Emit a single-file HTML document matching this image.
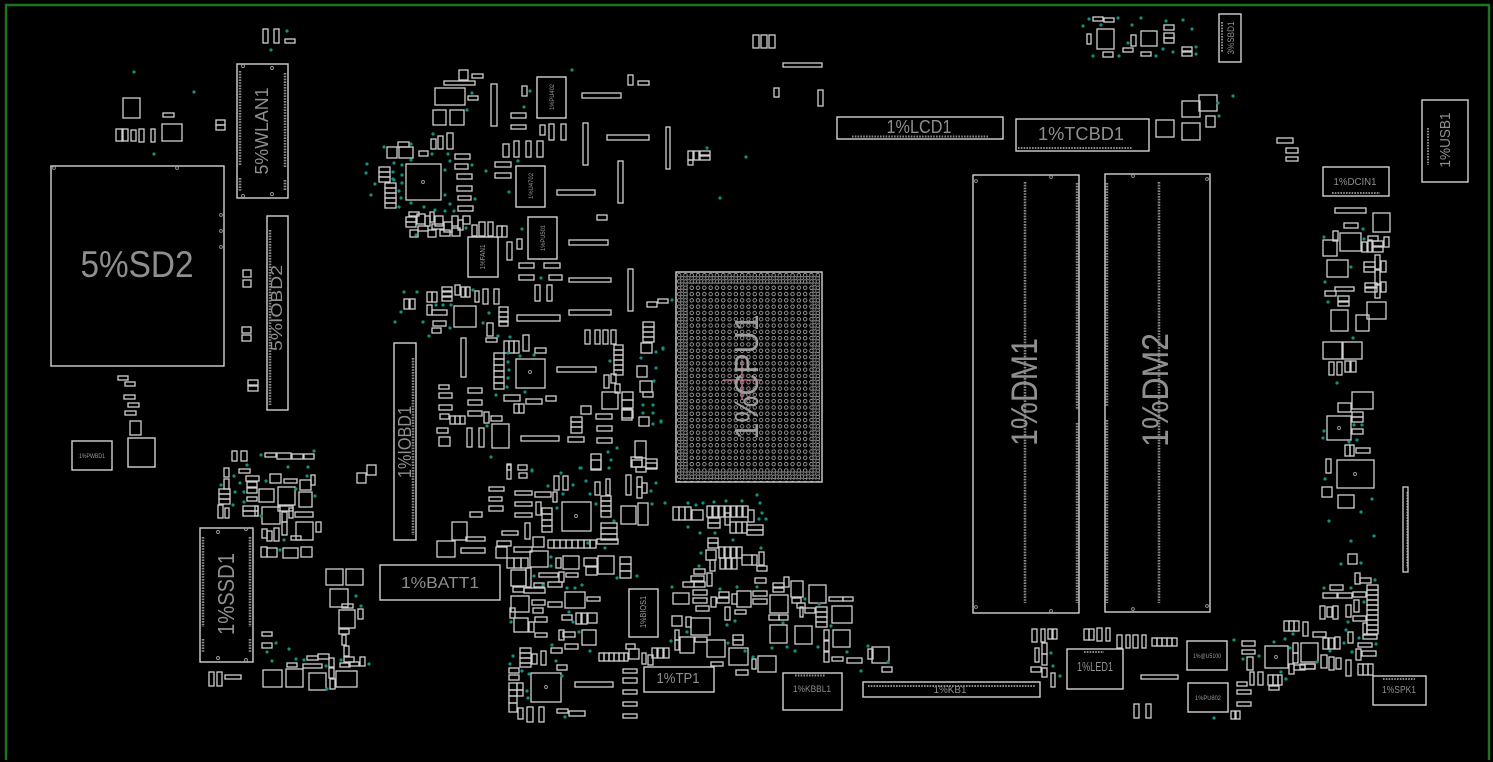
<!DOCTYPE html>
<html><head><meta charset="utf-8">
<style>
html,body{margin:0;padding:0;background:#000;}
svg{display:block;}
.s rect{fill:none;stroke:#d0d0d0;stroke-width:1.3;}
.c{fill:none;stroke:#d2d2d2;stroke-width:1.4;}
.t circle{fill:#11917f;}
.pin{stroke:#8a8a8a;stroke-width:2.6;stroke-dasharray:1.6 1.2;fill:none;}
text{font-family:"Liberation Sans",sans-serif;fill:#8f8f8f;}
.sm{fill:#9a9a9a;}
</style></head><body>
<svg width="1493" height="762" viewBox="0 0 1493 762" xmlns="http://www.w3.org/2000/svg">
<defs>
<pattern id="bga" x="676" y="272" width="6.3" height="6.3" patternUnits="userSpaceOnUse">
<circle cx="3.15" cy="3.15" r="1.75" fill="none" stroke="#a6a6a6" stroke-width="0.85"/>
</pattern>
<pattern id="bga2" x="679" y="275" width="6.3" height="6.3" patternUnits="userSpaceOnUse">
<circle cx="3.15" cy="3.15" r="1.6" fill="none" stroke="#9c9c9c" stroke-width="0.8"/>
</pattern>
</defs>
<rect width="1493" height="762" fill="#000"/>
<!-- board border -->
<path d="M6,760 L6,5 L1489,5 L1489,760" fill="none" stroke="#1c741c" stroke-width="2.4"/>

<!-- big outlines -->
<rect class="c" x="51" y="166" width="173" height="200"/>
<rect class="c" x="237" y="64" width="51" height="134"/>
<rect class="c" x="267" y="216" width="21" height="194"/>
<rect class="c" x="394" y="343" width="22" height="197"/>
<rect class="c" x="200" y="528" width="53" height="134"/>
<rect class="c" x="380" y="565" width="120" height="35"/>
<rect class="c" x="973" y="175" width="106" height="438"/>
<rect class="c" x="1105" y="174" width="105" height="438"/>
<rect class="c" x="837" y="117" width="166" height="22"/>
<rect class="c" x="1016" y="119" width="133" height="32"/>
<rect class="c" x="1323" y="167" width="66" height="29"/>
<rect class="c" x="1422" y="100" width="46" height="82"/>
<rect class="c" x="1219" y="14" width="22" height="48"/>
<rect class="c" x="1373" y="676" width="53" height="29"/>
<rect class="c" x="1067" y="649" width="56" height="40"/>
<rect class="c" x="1187" y="641" width="40" height="29"/>
<rect class="c" x="1188" y="683" width="40" height="29"/>
<rect class="c" x="863" y="682" width="177" height="15"/>
<rect class="c" x="783" y="673" width="59" height="37"/>
<rect class="c" x="644" y="667" width="70" height="25"/>
<rect class="c" x="629" y="589" width="29" height="48"/>
<rect class="c" x="72" y="441" width="40" height="29"/>
<rect class="c" x="128" y="438" width="27" height="29"/>
<rect class="c" x="468" y="237" width="30" height="40"/>
<rect class="c" x="537" y="77" width="29" height="41"/>
<rect class="c" x="516" y="166" width="29" height="41"/>
<rect class="c" x="528" y="217" width="29" height="42"/>

<!-- CPU BGA -->
<rect x="676" y="272" width="146" height="210" fill="url(#bga)"/>
<path d="M678,274 H820 V480 H678 Z M688,284 V470 H810 V284 Z" fill="url(#bga2)" fill-rule="evenodd"/>
<rect class="c" x="676" y="272" width="146" height="210"/>

<!-- pin rows -->
<g class="pin">
<line x1="240" y1="71" x2="240" y2="165"/><line x1="240" y1="178" x2="240" y2="191"/>
<line x1="285" y1="73" x2="285" y2="167"/><line x1="285" y1="180" x2="285" y2="191"/>
<line x1="270" y1="230" x2="270" y2="405"/>
<line x1="413" y1="358" x2="413" y2="535"/>
<line x1="203" y1="537" x2="203" y2="627"/><line x1="203" y1="639" x2="203" y2="653"/>
<line x1="250" y1="537" x2="250" y2="627"/><line x1="250" y1="639" x2="250" y2="653"/>
<line x1="1025" y1="182" x2="1025" y2="603"/>
<line x1="1077" y1="183" x2="1077" y2="410"/><line x1="1077" y1="423" x2="1077" y2="603"/>
<line x1="1159" y1="182" x2="1159" y2="603"/>
<line x1="1107" y1="183" x2="1107" y2="407"/><line x1="1107" y1="420" x2="1107" y2="603"/>
<line x1="852" y1="136.5" x2="988" y2="136.5" style="stroke-width:2"/>
<line x1="1018" y1="148" x2="1132" y2="148" style="stroke-width:2"/>
<line x1="1332" y1="193" x2="1380" y2="193" style="stroke-width:2"/>
<line x1="1428" y1="128" x2="1428" y2="165" style="stroke-width:2"/>
<line x1="1222" y1="22" x2="1222" y2="52" style="stroke-width:2"/>
<line x1="868" y1="686" x2="1035" y2="686" style="stroke-width:2"/>
<line x1="795" y1="675.5" x2="825" y2="675.5" style="stroke-width:2"/>
<line x1="1383" y1="679" x2="1415" y2="679" style="stroke-width:2"/>
<line x1="1084" y1="652" x2="1104" y2="652" style="stroke-width:2"/>
<line x1="1407" y1="492" x2="1407" y2="568" style="stroke-width:1.4"/>
</g>

<!-- pink crosshair -->
<line x1="723" y1="380" x2="762" y2="380" stroke="#c87a8c" stroke-width="1.3"/>
<line x1="742" y1="360" x2="742" y2="400" stroke="#c87a8c" stroke-width="1.3"/>

<!-- labels -->
<text x="137" y="277" font-size="37" text-anchor="middle" textLength="113" lengthAdjust="spacingAndGlyphs">5%SD2</text>
<text transform="translate(268,131) rotate(-90)" font-size="18" text-anchor="middle" textLength="87" lengthAdjust="spacingAndGlyphs">5%WLAN1</text>
<text transform="translate(282,308) rotate(-90)" font-size="16" text-anchor="middle" textLength="86" lengthAdjust="spacingAndGlyphs">5%IOBD2</text>
<text transform="translate(411,442) rotate(-90)" font-size="18" text-anchor="middle" textLength="72" lengthAdjust="spacingAndGlyphs">1%IOBD1</text>
<text transform="translate(234,594) rotate(-90)" font-size="23" text-anchor="middle" textLength="82" lengthAdjust="spacingAndGlyphs">1%SSD1</text>
<text transform="translate(758,377) rotate(-90)" font-size="33" text-anchor="middle" textLength="125" lengthAdjust="spacingAndGlyphs" style="fill:#9a9a9a">1%CPU1</text>
<text transform="translate(1037,392) rotate(-90)" font-size="37" text-anchor="middle" textLength="108" lengthAdjust="spacingAndGlyphs">1%DM1</text>
<text transform="translate(1168,390) rotate(-90)" font-size="37" text-anchor="middle" textLength="114" lengthAdjust="spacingAndGlyphs">1%DM2</text>
<text x="919" y="133" font-size="18" text-anchor="middle" textLength="65" lengthAdjust="spacingAndGlyphs">1%LCD1</text>
<text x="1081" y="140" font-size="18" text-anchor="middle" textLength="86" lengthAdjust="spacingAndGlyphs">1%TCBD1</text>
<text x="440" y="588" font-size="16" text-anchor="middle" textLength="78" lengthAdjust="spacingAndGlyphs">1%BATT1</text>
<text x="678" y="683" font-size="15" text-anchor="middle" textLength="43" lengthAdjust="spacingAndGlyphs">1%TP1</text>
<text x="812" y="692" font-size="9" text-anchor="middle" textLength="38" lengthAdjust="spacingAndGlyphs">1%KBBL1</text>
<text x="950" y="693" font-size="10" text-anchor="middle" textLength="33" lengthAdjust="spacingAndGlyphs">1%KB1</text>
<text x="1095" y="671" font-size="13" text-anchor="middle" textLength="36" lengthAdjust="spacingAndGlyphs">1%LED1</text>
<text x="1399" y="693" font-size="10" text-anchor="middle" textLength="34" lengthAdjust="spacingAndGlyphs">1%SPK1</text>
<text x="1355" y="185" font-size="10" text-anchor="middle" textLength="43" lengthAdjust="spacingAndGlyphs">1%DCIN1</text>
<text transform="translate(1450,140) rotate(-90)" font-size="15" text-anchor="middle" textLength="55" lengthAdjust="spacingAndGlyphs">1%USB1</text>
<text transform="translate(1234,38) rotate(-90)" font-size="9" text-anchor="middle" textLength="33" lengthAdjust="spacingAndGlyphs">3%SBD1</text>
<text x="92" y="458" font-size="6" text-anchor="middle" textLength="26" lengthAdjust="spacingAndGlyphs" class="sm">1%PWBD1</text>
<text transform="translate(485,257) rotate(-90)" font-size="7" text-anchor="middle" textLength="25" lengthAdjust="spacingAndGlyphs" class="sm">1%FAN1</text>
<text transform="translate(646,612) rotate(-90)" font-size="8" text-anchor="middle" textLength="32" lengthAdjust="spacingAndGlyphs" class="sm">1%BIOS1</text>
<text transform="translate(554,97) rotate(-90)" font-size="6" text-anchor="middle" textLength="26" lengthAdjust="spacingAndGlyphs" class="sm">1%PU402</text>
<text transform="translate(533,186) rotate(-90)" font-size="6" text-anchor="middle" textLength="26" lengthAdjust="spacingAndGlyphs" class="sm">1%U4702</text>
<text transform="translate(545,238) rotate(-90)" font-size="6" text-anchor="middle" textLength="26" lengthAdjust="spacingAndGlyphs" class="sm">1%PU501</text>
<text x="1207" y="658" font-size="6" text-anchor="middle" textLength="28" lengthAdjust="spacingAndGlyphs" class="sm">1%@U5100</text>
<text x="1208" y="700" font-size="6" text-anchor="middle" textLength="26" lengthAdjust="spacingAndGlyphs" class="sm">1%PU802</text>

<!-- small components -->
<g class="s">
<rect x="263" y="29" width="5" height="14"/><rect x="274" y="29" width="5" height="14"/><rect x="285" y="39" width="10" height="4"/>
<rect x="123" y="98" width="17" height="20"/><rect x="163" y="113" width="11" height="4"/><rect x="162" y="124" width="20" height="17"/>
<rect x="116" y="129" width="7" height="12"/><rect x="122" y="129" width="6" height="12"/><rect x="131" y="130" width="5" height="11"/><rect x="139" y="129" width="5" height="13"/><rect x="151" y="129" width="4" height="13"/>
<rect x="216" y="120" width="9" height="5"/><rect x="216" y="125" width="9" height="5"/>
<rect x="118" y="376" width="10" height="4"/><rect x="125" y="382" width="10" height="4"/><rect x="124" y="395" width="11" height="4"/><rect x="128" y="403" width="11" height="4"/><rect x="125" y="411" width="11" height="4"/><rect x="130" y="421" width="11" height="14"/>
<rect x="243" y="270" width="8" height="7"/><rect x="243" y="280" width="8" height="7"/><rect x="242" y="327" width="9" height="6"/><rect x="242" y="335" width="9" height="6"/><rect x="248" y="380" width="10" height="5"/><rect x="248" y="386" width="10" height="5"/>

<rect x="232" y="451" width="5" height="10"/><rect x="241" y="451" width="6" height="10"/>
<rect x="265" y="453" width="11" height="4"/><rect x="277" y="453" width="14" height="6"/><rect x="292" y="454" width="11" height="5"/><rect x="304" y="454" width="10" height="5"/>
<rect x="239" y="469" width="11" height="4"/><rect x="224" y="468" width="5" height="9"/><rect x="224" y="479" width="5" height="10"/>
<rect x="246" y="476" width="13" height="5"/><rect x="247" y="482" width="10" height="5"/><rect x="247" y="488" width="10" height="5"/><rect x="247" y="497" width="10" height="4"/>
<rect x="270" y="474" width="11" height="9"/><rect x="284" y="479" width="13" height="4"/><rect x="300" y="480" width="11" height="10"/><rect x="311" y="475" width="4" height="10"/>
<rect x="259" y="489" width="15" height="13"/><rect x="278" y="487" width="17" height="18"/><rect x="299" y="492" width="13" height="15"/>
<rect x="219" y="489" width="11" height="5"/><rect x="219" y="494" width="11" height="5"/><rect x="219" y="499" width="11" height="5"/>
<rect x="218" y="505" width="5" height="13"/><rect x="225" y="508" width="4" height="10"/>
<rect x="243" y="506" width="15" height="5"/><rect x="243" y="511" width="15" height="5"/><rect x="255" y="506" width="3" height="10"/>
<rect x="262" y="507" width="18" height="17"/>
<rect x="278" y="506" width="15" height="5"/><rect x="282" y="512" width="5" height="10"/><rect x="289" y="508" width="4" height="10"/><rect x="295" y="512" width="18" height="5"/>
<rect x="282" y="522" width="5" height="13"/><rect x="296" y="522" width="17" height="18"/><rect x="316" y="522" width="5" height="10"/>
<rect x="262" y="529" width="5" height="9"/><rect x="267" y="531" width="5" height="10"/><rect x="274" y="528" width="5" height="13"/><rect x="291" y="536" width="10" height="4"/>
<rect x="261" y="547" width="6" height="10"/><rect x="267" y="548" width="10" height="9"/><rect x="283" y="548" width="15" height="10"/><rect x="301" y="547" width="11" height="10"/>
<rect x="262" y="632" width="10" height="4"/><rect x="262" y="643" width="10" height="5"/>
<rect x="326" y="569" width="17" height="16"/><rect x="346" y="569" width="17" height="16"/><rect x="330" y="589" width="18" height="18"/><rect x="342" y="604" width="11" height="4"/><rect x="339" y="610" width="16" height="18"/><rect x="358" y="609" width="5" height="10"/><rect x="339" y="629" width="10" height="5"/><rect x="342" y="635" width="4" height="10"/><rect x="344" y="646" width="5" height="10"/>
<rect x="344" y="657" width="10" height="5"/><rect x="349" y="662" width="10" height="4"/><rect x="360" y="657" width="5" height="9"/><rect x="340" y="663" width="10" height="4"/>
<rect x="307" y="656" width="11" height="4"/><rect x="318" y="654" width="11" height="5"/><rect x="287" y="663" width="10" height="4"/><rect x="303" y="664" width="19" height="4"/>
<rect x="329" y="658" width="5" height="9"/><rect x="329" y="668" width="5" height="10"/><rect x="330" y="679" width="5" height="10"/>
<rect x="263" y="670" width="19" height="17"/><rect x="286" y="669" width="17" height="18"/><rect x="309" y="673" width="17" height="17"/><rect x="336" y="671" width="21" height="16"/>
<rect x="209" y="672" width="5" height="14"/><rect x="217" y="672" width="5" height="14"/><rect x="225" y="675" width="16" height="4"/>
<rect x="357" y="473" width="9" height="10"/><rect x="367" y="465" width="9" height="10"/>

<rect x="459" y="70" width="9" height="10"/><rect x="472" y="74" width="11" height="4"/><rect x="444" y="81" width="31" height="4"/>
<rect x="435" y="88" width="30" height="17"/><rect x="468" y="96" width="10" height="4"/><rect x="491" y="84" width="6" height="42"/>
<rect x="433" y="110" width="13" height="15"/><rect x="450" y="110" width="14" height="15"/><rect x="522" y="86" width="5" height="10"/>
<rect x="582" y="93" width="39" height="5"/><rect x="628" y="75" width="5" height="10"/><rect x="638" y="81" width="11" height="4"/>
<rect x="511" y="113" width="15" height="5"/><rect x="511" y="125" width="15" height="4"/>
<rect x="540" y="125" width="5" height="10"/><rect x="549" y="124" width="5" height="16"/><rect x="561" y="124" width="5" height="16"/>
<rect x="583" y="123" width="5" height="42"/><rect x="607" y="135" width="42" height="5"/><rect x="618" y="161" width="5" height="42"/><rect x="666" y="127" width="4" height="42"/>
<rect x="431" y="139" width="5" height="10"/><rect x="438" y="136" width="5" height="13"/><rect x="447" y="133" width="6" height="16"/>
<rect x="398" y="142" width="11" height="5"/><rect x="387" y="147" width="10" height="11"/><rect x="399" y="147" width="14" height="11"/><rect x="419" y="151" width="9" height="5"/><rect x="455" y="154" width="15" height="5"/>
<rect x="406" y="164" width="35" height="36"/><rect x="379" y="167" width="11" height="5"/><rect x="379" y="172" width="11" height="5"/><rect x="379" y="177" width="11" height="5"/>
<rect x="385" y="183" width="11" height="5"/><rect x="385" y="188" width="11" height="5"/><rect x="385" y="193" width="11" height="5"/><rect x="385" y="198" width="11" height="5"/><rect x="385" y="203" width="11" height="5"/>
<rect x="455" y="164" width="13" height="5"/><rect x="457" y="174" width="15" height="5"/><rect x="457" y="186" width="15" height="5"/><rect x="458" y="196" width="13" height="4"/><rect x="458" y="206" width="15" height="5"/>
<rect x="495" y="162" width="16" height="5"/><rect x="495" y="173" width="16" height="5"/>
<rect x="503" y="144" width="6" height="13"/><rect x="514" y="141" width="5" height="16"/><rect x="526" y="141" width="5" height="16"/><rect x="537" y="141" width="6" height="16"/>
<rect x="557" y="190" width="38" height="5"/><rect x="597" y="215" width="10" height="5"/>
<rect x="406" y="217" width="10" height="5"/><rect x="406" y="222" width="10" height="5"/><rect x="409" y="212" width="10" height="4"/><rect x="417" y="214" width="8" height="10"/><rect x="425" y="216" width="5" height="10"/><rect x="430" y="212" width="4" height="10"/><rect x="435" y="216" width="8" height="10"/><rect x="432" y="224" width="12" height="5"/><rect x="444" y="222" width="8" height="10"/><rect x="452" y="216" width="6" height="10"/><rect x="458" y="220" width="5" height="10"/><rect x="463" y="216" width="7" height="8"/><rect x="418" y="226" width="10" height="5"/><rect x="410" y="230" width="8" height="7"/><rect x="428" y="230" width="8" height="7"/><rect x="440" y="230" width="10" height="6"/><rect x="452" y="228" width="8" height="8"/>
<rect x="472" y="225" width="5" height="11"/><rect x="479" y="222" width="6" height="14"/><rect x="488" y="222" width="5" height="14"/><rect x="497" y="226" width="5" height="11"/><rect x="502" y="226" width="5" height="11"/>
<rect x="507" y="242" width="5" height="18"/><rect x="517" y="239" width="5" height="10"/>
<rect x="569" y="240" width="39" height="5"/><rect x="519" y="263" width="15" height="5"/><rect x="544" y="263" width="16" height="5"/><rect x="519" y="275" width="15" height="5"/><rect x="549" y="275" width="13" height="5"/>
<rect x="628" y="269" width="5" height="42"/><rect x="569" y="278" width="42" height="4"/>

<rect x="442" y="287" width="10" height="4"/><rect x="442" y="292" width="10" height="4"/><rect x="442" y="297" width="10" height="4"/>
<rect x="455" y="285" width="5" height="10"/><rect x="461" y="287" width="4" height="10"/><rect x="466" y="287" width="4" height="10"/>
<rect x="475" y="291" width="4" height="11"/><rect x="483" y="289" width="5" height="15"/><rect x="494" y="289" width="5" height="15"/>
<rect x="535" y="285" width="5" height="16"/><rect x="547" y="285" width="5" height="16"/>
<rect x="427" y="292" width="5" height="10"/><rect x="432" y="292" width="5" height="10"/>
<rect x="404" y="299" width="5" height="10"/><rect x="410" y="299" width="5" height="10"/>
<rect x="427" y="305" width="5" height="10"/><rect x="432" y="310" width="15" height="5"/>
<rect x="454" y="306" width="22" height="21"/>
<rect x="499" y="307" width="9" height="5"/><rect x="499" y="312" width="9" height="5"/><rect x="499" y="317" width="9" height="5"/><rect x="499" y="321" width="9" height="5"/>
<rect x="517" y="315" width="43" height="6"/><rect x="569" y="310" width="42" height="5"/>
<rect x="647" y="302" width="10" height="5"/><rect x="658" y="299" width="10" height="4"/>
<rect x="433" y="321" width="13" height="5"/><rect x="432" y="328" width="9" height="5"/>
<rect x="487" y="323" width="6" height="13"/><rect x="486" y="338" width="11" height="4"/><rect x="461" y="338" width="5" height="39"/>
<rect x="504" y="341" width="5" height="12"/><rect x="509" y="341" width="5" height="12"/><rect x="514" y="341" width="5" height="12"/>
<rect x="523" y="335" width="6" height="16"/><rect x="535" y="348" width="11" height="5"/>
<rect x="494" y="353" width="10" height="6"/><rect x="494" y="359" width="10" height="6"/><rect x="494" y="365" width="10" height="6"/><rect x="494" y="371" width="10" height="6"/><rect x="494" y="377" width="10" height="6"/><rect x="494" y="383" width="10" height="6"/>
<rect x="516" y="359" width="29" height="29"/>
<rect x="585" y="330" width="5" height="14"/><rect x="595" y="330" width="5" height="14"/><rect x="603" y="330" width="5" height="14"/><rect x="611" y="330" width="5" height="14"/>
<rect x="643" y="322" width="11" height="5"/><rect x="643" y="327" width="11" height="5"/><rect x="643" y="332" width="11" height="5"/><rect x="643" y="337" width="11" height="5"/><rect x="641" y="343" width="11" height="10"/>
<rect x="614" y="345" width="9" height="5"/><rect x="614" y="350" width="9" height="5"/><rect x="614" y="355" width="9" height="5"/><rect x="614" y="360" width="9" height="5"/><rect x="614" y="365" width="9" height="5"/><rect x="614" y="370" width="9" height="5"/>
<rect x="557" y="367" width="39" height="5"/><rect x="637" y="366" width="10" height="11"/>
<rect x="604" y="375" width="5" height="13"/><rect x="611" y="374" width="5" height="9"/><rect x="615" y="384" width="5" height="9"/>
<rect x="602" y="392" width="16" height="17"/><rect x="622" y="392" width="11" height="8"/><rect x="622" y="400" width="11" height="8"/><rect x="622" y="410" width="11" height="8"/>
<rect x="640" y="381" width="12" height="11"/><rect x="643" y="392" width="10" height="5"/>
<rect x="439" y="385" width="10" height="4"/><rect x="468" y="388" width="14" height="5"/><rect x="439" y="393" width="13" height="5"/><rect x="468" y="400" width="14" height="5"/>
<rect x="504" y="395" width="16" height="6"/><rect x="526" y="399" width="16" height="5"/><rect x="546" y="396" width="10" height="5"/>
<rect x="439" y="405" width="13" height="5"/><rect x="468" y="411" width="14" height="5"/><rect x="484" y="412" width="5" height="11"/><rect x="491" y="416" width="11" height="5"/>
<rect x="440" y="414" width="9" height="5"/><rect x="450" y="416" width="5" height="8"/><rect x="455" y="416" width="5" height="8"/><rect x="460" y="416" width="5" height="8"/>
<rect x="514" y="404" width="5" height="9"/><rect x="519" y="404" width="5" height="9"/>
<rect x="492" y="424" width="17" height="24"/>
<rect x="581" y="406" width="10" height="8"/><rect x="571" y="417" width="11" height="5"/><rect x="571" y="422" width="11" height="5"/><rect x="571" y="427" width="11" height="6"/>
<rect x="596" y="414" width="16" height="5"/><rect x="597" y="426" width="15" height="5"/>
<rect x="622" y="409" width="10" height="11"/><rect x="639" y="417" width="10" height="9"/>
<rect x="437" y="428" width="11" height="5"/><rect x="439" y="437" width="11" height="9"/><rect x="467" y="428" width="5" height="19"/><rect x="479" y="428" width="5" height="19"/>
<rect x="521" y="436" width="38" height="5"/><rect x="568" y="437" width="16" height="5"/><rect x="597" y="438" width="15" height="5"/>
<rect x="635" y="441" width="11" height="17"/><rect x="591" y="454" width="10" height="16"/><rect x="631" y="457" width="11" height="10"/><rect x="646" y="459" width="11" height="10"/>
<rect x="507" y="465" width="4" height="5"/><rect x="518" y="465" width="9" height="5"/>
<rect x="452" y="522" width="15" height="18"/><rect x="437" y="541" width="18" height="16"/><rect x="461" y="548" width="24" height="5"/><rect x="466" y="537" width="19" height="4"/><rect x="470" y="512" width="12" height="5"/>

<rect x="507" y="464" width="4" height="15"/><rect x="519" y="473" width="8" height="5"/>
<rect x="591" y="460" width="10" height="9"/><rect x="632" y="460" width="10" height="7"/><rect x="636" y="467" width="10" height="5"/><rect x="646" y="463" width="11" height="5"/>
<rect x="489" y="487" width="15" height="4"/><rect x="489" y="497" width="13" height="4"/><rect x="489" y="506" width="14" height="5"/>
<rect x="515" y="491" width="17" height="4"/><rect x="535" y="492" width="16" height="5"/>
<rect x="554" y="476" width="5" height="14"/><rect x="563" y="476" width="5" height="14"/>
<rect x="595" y="482" width="5" height="13"/><rect x="606" y="479" width="4" height="16"/>
<rect x="626" y="475" width="5" height="20"/><rect x="637" y="477" width="5" height="10"/><rect x="637" y="487" width="5" height="11"/><rect x="642" y="483" width="5" height="10"/>
<rect x="515" y="502" width="17" height="4"/><rect x="515" y="513" width="17" height="4"/>
<rect x="536" y="502" width="5" height="13"/><rect x="542" y="508" width="10" height="6"/><rect x="542" y="514" width="10" height="6"/><rect x="542" y="520" width="10" height="6"/><rect x="542" y="526" width="10" height="6"/>
<rect x="553" y="492" width="4" height="10"/>
<rect x="562" y="502" width="29" height="29"/>
<rect x="601" y="496" width="10" height="5"/><rect x="601" y="501" width="10" height="5"/><rect x="601" y="506" width="10" height="5"/><rect x="601" y="511" width="10" height="6"/>
<rect x="601" y="523" width="16" height="5"/><rect x="601" y="528" width="16" height="6"/><rect x="601" y="534" width="16" height="6"/>
<rect x="621" y="506" width="15" height="18"/><rect x="638" y="503" width="10" height="22"/>
<rect x="525" y="523" width="5" height="16"/><rect x="502" y="531" width="16" height="4"/><rect x="533" y="537" width="11" height="10"/><rect x="497" y="541" width="14" height="5"/>
<rect x="496" y="547" width="11" height="11"/><rect x="514" y="547" width="18" height="5"/>
<rect x="548" y="540" width="6" height="8"/><rect x="554" y="540" width="6" height="8"/><rect x="560" y="540" width="6" height="8"/><rect x="566" y="540" width="6" height="8"/><rect x="572" y="540" width="6" height="8"/><rect x="578" y="540" width="6" height="8"/><rect x="584" y="540" width="6" height="8"/><rect x="590" y="540" width="6" height="8"/>
<rect x="597" y="539" width="21" height="5"/>
<rect x="507" y="558" width="7" height="10"/><rect x="514" y="558" width="7" height="10"/><rect x="521" y="558" width="7" height="10"/>
<rect x="530" y="551" width="18" height="16"/><rect x="556" y="558" width="5" height="10"/><rect x="563" y="556" width="16" height="13"/>
<rect x="584" y="558" width="13" height="8"/><rect x="586" y="567" width="11" height="8"/><rect x="598" y="556" width="16" height="18"/>
<rect x="620" y="557" width="11" height="7"/><rect x="620" y="564" width="11" height="7"/><rect x="620" y="571" width="11" height="7"/>
<rect x="511" y="570" width="15" height="16"/><rect x="526" y="568" width="5" height="19"/>
<rect x="539" y="573" width="19" height="4"/><rect x="559" y="572" width="5" height="10"/><rect x="566" y="573" width="12" height="4"/>
<rect x="513" y="587" width="11" height="5"/><rect x="524" y="588" width="21" height="5"/><rect x="534" y="583" width="10" height="4"/><rect x="548" y="582" width="14" height="5"/>
<rect x="565" y="592" width="20" height="16"/><rect x="587" y="597" width="13" height="4"/>
<rect x="511" y="596" width="18" height="16"/><rect x="510" y="608" width="5" height="10"/>
<rect x="532" y="600" width="13" height="5"/><rect x="548" y="602" width="14" height="5"/><rect x="533" y="608" width="10" height="5"/><rect x="535" y="617" width="12" height="5"/><rect x="562" y="615" width="10" height="5"/>
<rect x="514" y="618" width="14" height="14"/><rect x="529" y="622" width="5" height="10"/>
<rect x="576" y="613" width="5" height="11"/><rect x="582" y="613" width="5" height="11"/><rect x="588" y="613" width="9" height="10"/>
<rect x="535" y="633" width="12" height="4"/><rect x="559" y="630" width="5" height="10"/><rect x="563" y="632" width="12" height="5"/>
<rect x="565" y="644" width="13" height="5"/><rect x="582" y="630" width="14" height="15"/><rect x="551" y="648" width="11" height="5"/>
<rect x="520" y="648" width="11" height="5"/><rect x="520" y="653" width="11" height="5"/><rect x="520" y="658" width="11" height="5"/><rect x="520" y="663" width="11" height="4"/>
<rect x="532" y="654" width="5" height="10"/><rect x="541" y="651" width="5" height="14"/>
<rect x="599" y="653" width="5" height="8"/><rect x="604" y="653" width="5" height="8"/><rect x="609" y="653" width="5" height="8"/><rect x="614" y="653" width="5" height="8"/><rect x="619" y="653" width="5" height="8"/><rect x="624" y="653" width="4" height="8"/><rect x="629" y="649" width="10" height="10"/>
<rect x="626" y="644" width="9" height="5"/><rect x="642" y="653" width="4" height="11"/><rect x="648" y="655" width="5" height="10"/><rect x="652" y="648" width="5" height="10"/><rect x="658" y="648" width="5" height="10"/><rect x="664" y="648" width="5" height="10"/>
<rect x="509" y="668" width="10" height="5"/><rect x="509" y="675" width="10" height="5"/><rect x="509" y="683" width="8" height="7"/><rect x="517" y="683" width="6" height="7"/><rect x="509" y="690" width="8" height="6"/><rect x="517" y="690" width="6" height="6"/><rect x="509" y="696" width="8" height="7"/><rect x="509" y="703" width="8" height="9"/>
<rect x="531" y="673" width="30" height="29"/>
<rect x="557" y="665" width="10" height="5"/><rect x="575" y="682" width="38" height="5"/>
<rect x="623" y="669" width="14" height="4"/><rect x="623" y="678" width="14" height="5"/><rect x="623" y="690" width="14" height="4"/><rect x="623" y="702" width="14" height="4"/><rect x="623" y="714" width="14" height="4"/>
<rect x="518" y="708" width="5" height="11"/><rect x="527" y="707" width="6" height="15"/><rect x="539" y="707" width="5" height="15"/>
<rect x="557" y="709" width="11" height="4"/><rect x="569" y="711" width="16" height="5"/>
<rect x="673" y="593" width="16" height="11"/><rect x="672" y="616" width="10" height="10"/><rect x="686" y="617" width="5" height="10"/><rect x="691" y="618" width="19" height="17"/>
<rect x="675" y="630" width="4" height="10"/><rect x="675" y="640" width="4" height="10"/>
<rect x="680" y="637" width="14" height="16"/><rect x="695" y="637" width="12" height="5"/><rect x="707" y="640" width="18" height="17"/><rect x="711" y="662" width="12" height="4"/>
<rect x="729" y="648" width="19" height="17"/><rect x="736" y="670" width="12" height="5"/><rect x="752" y="659" width="4" height="10"/><rect x="758" y="656" width="18" height="16"/>
<rect x="868" y="649" width="5" height="10"/><rect x="872" y="647" width="17" height="16"/><rect x="882" y="667" width="10" height="5"/>
<rect x="673" y="507" width="6" height="13"/><rect x="679" y="507" width="6" height="13"/><rect x="685" y="507" width="6" height="13"/><rect x="692" y="510" width="11" height="10"/>
<rect x="707" y="506" width="5" height="11"/><rect x="713" y="506" width="5" height="11"/><rect x="719" y="506" width="5" height="11"/><rect x="725" y="506" width="5" height="11"/><rect x="731" y="506" width="5" height="11"/><rect x="737" y="506" width="5" height="11"/><rect x="743" y="506" width="5" height="11"/>
<rect x="708" y="518" width="12" height="5"/><rect x="708" y="523" width="12" height="5"/><rect x="725" y="513" width="5" height="12"/>
<rect x="730" y="522" width="6" height="11"/><rect x="736" y="522" width="6" height="11"/><rect x="742" y="522" width="5" height="11"/><rect x="748" y="510" width="6" height="12"/>
<rect x="747" y="525" width="16" height="5"/><rect x="747" y="530" width="16" height="5"/>
<rect x="708" y="538" width="10" height="5"/><rect x="708" y="543" width="10" height="5"/><rect x="706" y="550" width="10" height="10"/><rect x="710" y="560" width="5" height="11"/>
<rect x="719" y="547" width="5" height="11"/><rect x="725" y="547" width="5" height="11"/><rect x="731" y="547" width="5" height="11"/><rect x="737" y="547" width="5" height="11"/><rect x="720" y="558" width="5" height="11"/><rect x="726" y="558" width="5" height="11"/><rect x="732" y="558" width="5" height="11"/>
<rect x="742" y="555" width="10" height="10"/><rect x="752" y="555" width="5" height="10"/><rect x="759" y="552" width="5" height="13"/><rect x="757" y="566" width="10" height="5"/>
<rect x="694" y="569" width="11" height="5"/><rect x="691" y="576" width="13" height="5"/><rect x="683" y="582" width="11" height="5"/><rect x="694" y="582" width="11" height="5"/><rect x="707" y="573" width="5" height="13"/>
<rect x="693" y="590" width="14" height="5"/><rect x="693" y="598" width="14" height="5"/><rect x="696" y="606" width="13" height="5"/><rect x="711" y="597" width="5" height="10"/>
<rect x="719" y="592" width="10" height="5"/><rect x="717" y="598" width="12" height="5"/><rect x="732" y="594" width="5" height="10"/><rect x="737" y="591" width="14" height="16"/>
<rect x="725" y="607" width="5" height="13"/><rect x="735" y="610" width="11" height="4"/><rect x="733" y="635" width="10" height="5"/><rect x="733" y="640" width="10" height="5"/>
<rect x="753" y="591" width="14" height="5"/><rect x="753" y="599" width="14" height="5"/><rect x="755" y="578" width="11" height="5"/>
<rect x="770" y="595" width="18" height="18"/><rect x="769" y="615" width="10" height="5"/><rect x="779" y="615" width="9" height="5"/><rect x="770" y="625" width="17" height="18"/>
<rect x="773" y="583" width="11" height="4"/><rect x="773" y="588" width="11" height="4"/><rect x="784" y="577" width="5" height="10"/>
<rect x="791" y="581" width="12" height="16"/><rect x="792" y="598" width="9" height="5"/><rect x="797" y="603" width="8" height="5"/><rect x="800" y="607" width="3" height="10"/><rect x="805" y="608" width="10" height="5"/>
<rect x="795" y="626" width="17" height="18"/><rect x="809" y="585" width="17" height="18"/>
<rect x="816" y="607" width="11" height="5"/><rect x="816" y="612" width="11" height="5"/><rect x="816" y="617" width="11" height="5"/><rect x="816" y="622" width="11" height="5"/>
<rect x="829" y="597" width="14" height="4"/><rect x="843" y="597" width="10" height="4"/><rect x="832" y="606" width="20" height="17"/>
<rect x="824" y="630" width="5" height="10"/><rect x="824" y="641" width="5" height="10"/><rect x="824" y="652" width="5" height="10"/>
<rect x="833" y="630" width="17" height="17"/><rect x="832" y="657" width="11" height="4"/><rect x="847" y="658" width="15" height="5"/>

<rect x="1335" y="208" width="31" height="5"/><rect x="1373" y="213" width="17" height="19"/><rect x="1344" y="223" width="14" height="5"/><rect x="1333" y="231" width="5" height="10"/>
<rect x="1323" y="240" width="14" height="16"/><rect x="1340" y="233" width="21" height="18"/><rect x="1362" y="242" width="5" height="10"/><rect x="1368" y="240" width="4" height="12"/>
<rect x="1368" y="236" width="10" height="5"/><rect x="1373" y="241" width="10" height="5"/><rect x="1373" y="247" width="10" height="5"/><rect x="1384" y="237" width="5" height="10"/>
<rect x="1327" y="260" width="21" height="17"/><rect x="1364" y="262" width="11" height="5"/><rect x="1364" y="267" width="11" height="5"/><rect x="1375" y="255" width="5" height="14"/><rect x="1375" y="270" width="5" height="14"/><rect x="1375" y="285" width="5" height="13"/><rect x="1381" y="261" width="5" height="11"/>
<rect x="1365" y="283" width="12" height="4"/><rect x="1365" y="288" width="12" height="4"/><rect x="1381" y="282" width="5" height="10"/>
<rect x="1335" y="287" width="19" height="4"/><rect x="1325" y="291" width="11" height="5"/><rect x="1338" y="296" width="11" height="5"/><rect x="1338" y="302" width="11" height="4"/>
<rect x="1331" y="310" width="17" height="21"/><rect x="1367" y="302" width="19" height="17"/><rect x="1356" y="315" width="13" height="16"/>
<rect x="1323" y="342" width="19" height="17"/><rect x="1343" y="342" width="19" height="17"/>
<rect x="1329" y="362" width="5" height="13"/><rect x="1337" y="362" width="5" height="13"/><rect x="1345" y="361" width="5" height="11"/><rect x="1351" y="361" width="5" height="11"/>
<rect x="1352" y="392" width="21" height="17"/><rect x="1338" y="403" width="13" height="9"/><rect x="1352" y="412" width="11" height="5"/><rect x="1352" y="417" width="11" height="5"/>
<rect x="1327" y="416" width="24" height="24"/><rect x="1352" y="429" width="11" height="5"/>
<rect x="1345" y="445" width="5" height="11"/><rect x="1350" y="445" width="4" height="11"/><rect x="1356" y="448" width="14" height="5"/>
<rect x="1326" y="459" width="5" height="14"/><rect x="1337" y="460" width="37" height="28"/><rect x="1322" y="487" width="10" height="10"/><rect x="1338" y="495" width="16" height="13"/>
<rect x="1403" y="487" width="5" height="85"/>
<rect x="1348" y="554" width="9" height="10"/><rect x="1355" y="573" width="5" height="11"/><rect x="1360" y="578" width="11" height="5"/>
<rect x="1330" y="585" width="13" height="5"/><rect x="1323" y="593" width="14" height="5"/><rect x="1338" y="593" width="14" height="5"/><rect x="1353" y="592" width="13" height="5"/>
<rect x="1367" y="585" width="11" height="5"/><rect x="1367" y="590" width="11" height="5"/><rect x="1367" y="595" width="11" height="5"/><rect x="1367" y="600" width="11" height="5"/><rect x="1367" y="605" width="11" height="5"/>
<rect x="1320" y="606" width="5" height="13"/><rect x="1327" y="607" width="5" height="10"/><rect x="1333" y="606" width="5" height="13"/><rect x="1346" y="605" width="5" height="12"/><rect x="1354" y="600" width="5" height="12"/>
<rect x="1367" y="610" width="11" height="5"/><rect x="1367" y="615" width="11" height="5"/><rect x="1367" y="620" width="11" height="5"/><rect x="1367" y="625" width="11" height="5"/><rect x="1367" y="630" width="11" height="4"/>
<rect x="1353" y="616" width="13" height="5"/><rect x="1363" y="623" width="4" height="11"/>
<rect x="1303" y="622" width="5" height="14"/><rect x="1313" y="632" width="13" height="5"/>
<rect x="1348" y="632" width="5" height="11"/><rect x="1323" y="638" width="5" height="11"/><rect x="1329" y="638" width="5" height="11"/><rect x="1335" y="637" width="5" height="12"/>
<rect x="1358" y="643" width="14" height="4"/><rect x="1363" y="635" width="14" height="4"/>
<rect x="1301" y="643" width="17" height="19"/><rect x="1356" y="649" width="5" height="11"/><rect x="1362" y="651" width="14" height="5"/>
<rect x="1321" y="655" width="6" height="13"/><rect x="1329" y="657" width="5" height="13"/><rect x="1336" y="658" width="5" height="11"/><rect x="1346" y="660" width="5" height="16"/>
<rect x="1358" y="664" width="5" height="11"/><rect x="1363" y="664" width="5" height="11"/><rect x="1368" y="664" width="5" height="11"/>
<rect x="1300" y="664" width="15" height="5"/>
<rect x="1284" y="621" width="5" height="10"/><rect x="1289" y="621" width="5" height="10"/><rect x="1294" y="621" width="5" height="10"/>

<rect x="1032" y="629" width="5" height="13"/><rect x="1041" y="629" width="4" height="13"/><rect x="1048" y="629" width="4" height="10"/><rect x="1053" y="629" width="4" height="10"/>
<rect x="1084" y="629" width="5" height="11"/><rect x="1089" y="629" width="5" height="11"/><rect x="1097" y="628" width="5" height="13"/><rect x="1106" y="628" width="4" height="13"/>
<rect x="1117" y="635" width="5" height="13"/><rect x="1126" y="635" width="4" height="13"/><rect x="1133" y="635" width="5" height="13"/><rect x="1142" y="635" width="4" height="13"/>
<rect x="1152" y="638" width="5" height="8"/><rect x="1157" y="638" width="5" height="8"/><rect x="1162" y="638" width="5" height="8"/><rect x="1167" y="638" width="5" height="8"/><rect x="1172" y="638" width="5" height="8"/>
<rect x="1035" y="648" width="4" height="14"/><rect x="1042" y="643" width="5" height="11"/><rect x="1042" y="654" width="5" height="11"/>
<rect x="1031" y="667" width="10" height="5"/><rect x="1042" y="668" width="5" height="9"/><rect x="1051" y="673" width="4" height="14"/>
<rect x="1141" y="675" width="37" height="4"/>
<rect x="1134" y="704" width="5" height="14"/><rect x="1146" y="704" width="5" height="14"/>
<rect x="1242" y="641" width="13" height="5"/><rect x="1242" y="650" width="13" height="4"/><rect x="1247" y="657" width="6" height="13"/>
<rect x="1237" y="682" width="10" height="4"/><rect x="1237" y="690" width="14" height="4"/><rect x="1237" y="702" width="14" height="4"/><rect x="1231" y="711" width="4" height="8"/><rect x="1236" y="711" width="4" height="8"/>
<rect x="1250" y="672" width="4" height="13"/><rect x="1258" y="672" width="5" height="13"/>
<rect x="1265" y="646" width="23" height="22"/>
<rect x="1268" y="675" width="5" height="10"/><rect x="1273" y="675" width="5" height="10"/><rect x="1278" y="675" width="4" height="10"/><rect x="1269" y="686" width="10" height="4"/>
<rect x="1293" y="643" width="5" height="10"/><rect x="1293" y="653" width="5" height="10"/><rect x="1289" y="664" width="5" height="10"/><rect x="1294" y="665" width="11" height="5"/><rect x="1305" y="664" width="10" height="5"/>

<rect x="1093" y="17" width="10" height="4"/><rect x="1104" y="18" width="10" height="4"/><rect x="1087" y="34" width="4" height="10"/><rect x="1097" y="29" width="17" height="20"/><rect x="1131" y="35" width="5" height="11"/><rect x="1123" y="48" width="10" height="4"/>
<rect x="1141" y="31" width="16" height="15"/><rect x="1164" y="25" width="10" height="5"/><rect x="1164" y="33" width="10" height="5"/><rect x="1164" y="38" width="10" height="5"/><rect x="1103" y="52" width="10" height="5"/><rect x="1141" y="52" width="10" height="4"/>
<rect x="1182" y="47" width="10" height="4"/><rect x="1182" y="52" width="10" height="4"/>
<rect x="1182" y="101" width="18" height="16"/><rect x="1199" y="95" width="18" height="16"/><rect x="1156" y="120" width="18" height="17"/><rect x="1182" y="123" width="18" height="17"/><rect x="1206" y="116" width="9" height="11"/>
<rect x="1277" y="138" width="16" height="5"/><rect x="1286" y="148" width="12" height="5"/><rect x="1286" y="157" width="12" height="4"/>

<rect x="753" y="35" width="6" height="13"/><rect x="761" y="35" width="6" height="13"/><rect x="769" y="35" width="6" height="13"/><rect x="783" y="63" width="39" height="4"/><rect x="774" y="88" width="5" height="9"/><rect x="818" y="90" width="5" height="16"/>
<rect x="688" y="151" width="5" height="9"/><rect x="694" y="151" width="5" height="9"/><rect x="700" y="151" width="10" height="4"/><rect x="700" y="156" width="10" height="4"/><rect x="688" y="160" width="5" height="5"/>
</g>

<!-- IC pads/dots inside parts -->
<g fill="none" stroke="#9a9a9a" stroke-width="0.9">
<circle cx="243" cy="66" r="1.5"/><circle cx="272" cy="68" r="1.5"/><circle cx="243" cy="196" r="1.5"/><circle cx="272" cy="194" r="1.5"/>
<circle cx="218" cy="532" r="1.5"/><circle cx="246" cy="529" r="1.5"/><circle cx="218" cy="658" r="1.5"/><circle cx="246" cy="660" r="1.5"/>
<circle cx="54" cy="168" r="1.4"/><circle cx="177" cy="168" r="1.4"/><circle cx="221" cy="215" r="1.4"/><circle cx="221" cy="231" r="1.4"/><circle cx="221" cy="247" r="1.4"/>
<circle cx="976" cy="181" r="1.4"/><circle cx="1051" cy="177" r="1.4"/><circle cx="976" cy="607" r="1.4"/><circle cx="1051" cy="611" r="1.4"/>
<circle cx="1133" cy="176" r="1.4"/><circle cx="1207" cy="179" r="1.4"/><circle cx="1133" cy="609" r="1.4"/><circle cx="1207" cy="606" r="1.4"/>
<circle cx="423" cy="182" r="1.5"/><circle cx="530" cy="372" r="1.5"/><circle cx="576" cy="516" r="1.5"/><circle cx="546" cy="687" r="1.5"/><circle cx="1276" cy="657" r="1.5"/><circle cx="1339" cy="428" r="1.5"/><circle cx="1355" cy="474" r="1.5"/>
</g>

<!-- teal vias -->
<g class="t">
<circle cx="134" cy="72" r="1.6"/><circle cx="194" cy="92" r="1.6"/><circle cx="154" cy="154" r="1.6"/><circle cx="287" cy="31" r="1.6"/><circle cx="271" cy="50" r="1.6"/>
<circle cx="384" cy="147" r="1.6"/><circle cx="367" cy="164" r="1.6"/><circle cx="366" cy="173" r="1.6"/><circle cx="394" cy="163" r="1.6"/><circle cx="393" cy="172" r="1.6"/><circle cx="394" cy="180" r="1.6"/><circle cx="375" cy="184" r="1.6"/><circle cx="371" cy="195" r="1.6"/>
<circle cx="472" cy="93" r="1.6"/><circle cx="467" cy="110" r="1.6"/><circle cx="530" cy="91" r="1.6"/><circle cx="524" cy="107" r="1.6"/><circle cx="572" cy="70" r="1.6"/><circle cx="433" cy="134" r="1.6"/><circle cx="411" cy="144" r="1.6"/><circle cx="432" cy="154" r="1.6"/><circle cx="448" cy="154" r="1.6"/><circle cx="411" cy="160" r="1.6"/><circle cx="402" cy="165" r="1.6"/><circle cx="402" cy="175" r="1.6"/><circle cx="393" cy="179" r="1.6"/><circle cx="402" cy="183" r="1.6"/><circle cx="399" cy="191" r="1.6"/><circle cx="401" cy="198" r="1.6"/><circle cx="399" cy="207" r="1.6"/><circle cx="411" cy="203" r="1.6"/><circle cx="424" cy="207" r="1.6"/><circle cx="435" cy="210" r="1.6"/><circle cx="445" cy="211" r="1.6"/><circle cx="454" cy="211" r="1.6"/><circle cx="450" cy="204" r="1.6"/><circle cx="445" cy="195" r="1.6"/><circle cx="445" cy="170" r="1.6"/><circle cx="450" cy="161" r="1.6"/><circle cx="472" cy="165" r="1.6"/><circle cx="486" cy="171" r="1.6"/><circle cx="509" cy="192" r="1.6"/><circle cx="518" cy="161" r="1.6"/><circle cx="475" cy="199" r="1.6"/><circle cx="466" cy="228" r="1.6"/><circle cx="416" cy="235" r="1.6"/><circle cx="522" cy="229" r="1.6"/><circle cx="541" cy="278" r="1.6"/>
<circle cx="404" cy="292" r="1.6"/><circle cx="417" cy="292" r="1.6"/><circle cx="401" cy="312" r="1.6"/><circle cx="395" cy="322" r="1.6"/><circle cx="423" cy="322" r="1.6"/><circle cx="429" cy="336" r="1.6"/><circle cx="450" cy="328" r="1.6"/><circle cx="436" cy="305" r="1.6"/><circle cx="443" cy="305" r="1.6"/><circle cx="451" cy="305" r="1.6"/><circle cx="473" cy="290" r="1.6"/><circle cx="489" cy="313" r="1.6"/><circle cx="483" cy="323" r="1.6"/><circle cx="498" cy="336" r="1.6"/><circle cx="510" cy="337" r="1.6"/><circle cx="508" cy="353" r="1.6"/><circle cx="508" cy="362" r="1.6"/><circle cx="509" cy="370" r="1.6"/><circle cx="508" cy="378" r="1.6"/><circle cx="507" cy="387" r="1.6"/><circle cx="496" cy="395" r="1.6"/><circle cx="525" cy="392" r="1.6"/><circle cx="520" cy="356" r="1.6"/><circle cx="534" cy="355" r="1.6"/>
<circle cx="610" cy="361" r="1.6"/><circle cx="656" cy="352" r="1.6"/><circle cx="663" cy="349" r="1.6"/><circle cx="656" cy="368" r="1.6"/><circle cx="641" cy="358" r="1.6"/><circle cx="654" cy="381" r="1.6"/><circle cx="653" cy="405" r="1.6"/><circle cx="643" cy="405" r="1.6"/><circle cx="653" cy="413" r="1.6"/><circle cx="643" cy="413" r="1.6"/><circle cx="661" cy="421" r="1.6"/><circle cx="653" cy="424" r="1.6"/><circle cx="608" cy="452" r="1.6"/><circle cx="617" cy="448" r="1.6"/><circle cx="611" cy="460" r="1.6"/><circle cx="487" cy="426" r="1.6"/><circle cx="491" cy="457" r="1.6"/><circle cx="532" cy="470" r="1.6"/><circle cx="580" cy="468" r="1.6"/><circle cx="663" cy="348" r="1.6"/><circle cx="661" cy="422" r="1.6"/>
<circle cx="532" cy="471" r="1.6"/><circle cx="561" cy="473" r="1.6"/><circle cx="581" cy="468" r="1.6"/><circle cx="609" cy="468" r="1.6"/><circle cx="548" cy="486" r="1.6"/><circle cx="573" cy="485" r="1.6"/><circle cx="586" cy="481" r="1.6"/><circle cx="590" cy="494" r="1.6"/><circle cx="563" cy="494" r="1.6"/><circle cx="557" cy="508" r="1.6"/><circle cx="596" cy="504" r="1.6"/><circle cx="614" cy="521" r="1.6"/><circle cx="656" cy="483" r="1.6"/><circle cx="651" cy="491" r="1.6"/><circle cx="652" cy="504" r="1.6"/><circle cx="665" cy="503" r="1.6"/><circle cx="688" cy="503" r="1.6"/><circle cx="696" cy="505" r="1.6"/><circle cx="703" cy="503" r="1.6"/><circle cx="714" cy="502" r="1.6"/><circle cx="726" cy="501" r="1.6"/><circle cx="742" cy="501" r="1.6"/><circle cx="757" cy="495" r="1.6"/><circle cx="760" cy="503" r="1.6"/><circle cx="762" cy="513" r="1.6"/><circle cx="759" cy="519" r="1.6"/><circle cx="766" cy="519" r="1.6"/><circle cx="688" cy="527" r="1.6"/><circle cx="700" cy="533" r="1.6"/><circle cx="715" cy="533" r="1.6"/><circle cx="733" cy="540" r="1.6"/><circle cx="761" cy="548" r="1.6"/><circle cx="701" cy="553" r="1.6"/><circle cx="699" cy="566" r="1.6"/><circle cx="672" cy="587" r="1.6"/><circle cx="720" cy="589" r="1.6"/><circle cx="737" cy="587" r="1.6"/><circle cx="757" cy="587" r="1.6"/>
<circle cx="551" cy="557" r="1.6"/><circle cx="551" cy="566" r="1.6"/><circle cx="534" cy="576" r="1.6"/><circle cx="543" cy="585" r="1.6"/><circle cx="567" cy="588" r="1.6"/><circle cx="575" cy="588" r="1.6"/><circle cx="582" cy="585" r="1.6"/><circle cx="617" cy="578" r="1.6"/><circle cx="637" cy="576" r="1.6"/><circle cx="605" cy="548" r="1.6"/><circle cx="588" cy="543" r="1.6"/><circle cx="569" cy="612" r="1.6"/><circle cx="573" cy="622" r="1.6"/><circle cx="579" cy="632" r="1.6"/><circle cx="590" cy="651" r="1.6"/><circle cx="511" cy="622" r="1.6"/><circle cx="513" cy="656" r="1.6"/><circle cx="510" cy="664" r="1.6"/><circle cx="522" cy="671" r="1.6"/><circle cx="529" cy="674" r="1.6"/><circle cx="562" cy="676" r="1.6"/><circle cx="527" cy="691" r="1.6"/><circle cx="528" cy="698" r="1.6"/><circle cx="552" cy="645" r="1.6"/><circle cx="556" cy="661" r="1.6"/><circle cx="565" cy="717" r="1.6"/>
<circle cx="671" cy="641" r="1.6"/><circle cx="687" cy="632" r="1.6"/><circle cx="727" cy="625" r="1.6"/><circle cx="735" cy="621" r="1.6"/><circle cx="728" cy="643" r="1.6"/><circle cx="745" cy="651" r="1.6"/><circle cx="753" cy="657" r="1.6"/><circle cx="783" cy="623" r="1.6"/><circle cx="819" cy="604" r="1.6"/><circle cx="805" cy="599" r="1.6"/><circle cx="831" cy="626" r="1.6"/><circle cx="847" cy="652" r="1.6"/><circle cx="861" cy="671" r="1.6"/><circle cx="868" cy="646" r="1.6"/><circle cx="888" cy="662" r="1.6"/><circle cx="818" cy="647" r="1.6"/><circle cx="795" cy="651" r="1.6"/><circle cx="787" cy="647" r="1.6"/><circle cx="772" cy="648" r="1.6"/>
<circle cx="261" cy="455" r="1.6"/><circle cx="314" cy="451" r="1.6"/><circle cx="288" cy="467" r="1.6"/><circle cx="308" cy="467" r="1.6"/><circle cx="247" cy="465" r="1.6"/><circle cx="234" cy="476" r="1.6"/><circle cx="221" cy="485" r="1.6"/><circle cx="240" cy="483" r="1.6"/><circle cx="235" cy="492" r="1.6"/><circle cx="244" cy="492" r="1.6"/><circle cx="266" cy="481" r="1.6"/><circle cx="307" cy="476" r="1.6"/><circle cx="296" cy="489" r="1.6"/><circle cx="315" cy="496" r="1.6"/><circle cx="233" cy="505" r="1.6"/><circle cx="244" cy="502" r="1.6"/><circle cx="261" cy="516" r="1.6"/><circle cx="284" cy="540" r="1.6"/><circle cx="280" cy="550" r="1.6"/><circle cx="356" cy="596" r="1.6"/><circle cx="361" cy="606" r="1.6"/><circle cx="276" cy="643" r="1.6"/><circle cx="289" cy="649" r="1.6"/><circle cx="267" cy="652" r="1.6"/><circle cx="272" cy="661" r="1.6"/><circle cx="296" cy="659" r="1.6"/><circle cx="304" cy="660" r="1.6"/><circle cx="326" cy="666" r="1.6"/><circle cx="341" cy="660" r="1.6"/><circle cx="369" cy="664" r="1.6"/><circle cx="327" cy="689" r="1.6"/>
<circle cx="1363" cy="229" r="1.6"/><circle cx="1324" cy="237" r="1.6"/><circle cx="1364" cy="239" r="1.6"/><circle cx="1351" cy="267" r="1.6"/><circle cx="1325" cy="282" r="1.6"/><circle cx="1328" cy="302" r="1.6"/><circle cx="1353" cy="338" r="1.6"/><circle cx="1337" cy="383" r="1.6"/><circle cx="1354" cy="425" r="1.6"/><circle cx="1362" cy="425" r="1.6"/><circle cx="1324" cy="431" r="1.6"/><circle cx="1323" cy="438" r="1.6"/><circle cx="1349" cy="442" r="1.6"/><circle cx="1357" cy="440" r="1.6"/><circle cx="1325" cy="479" r="1.6"/><circle cx="1372" cy="499" r="1.6"/><circle cx="1361" cy="512" r="1.6"/><circle cx="1329" cy="521" r="1.6"/><circle cx="1351" cy="541" r="1.6"/><circle cx="1374" cy="536" r="1.6"/><circle cx="1341" cy="564" r="1.6"/><circle cx="1361" cy="563" r="1.6"/><circle cx="1375" cy="580" r="1.6"/><circle cx="1351" cy="588" r="1.6"/><circle cx="1324" cy="588" r="1.6"/><circle cx="1364" cy="602" r="1.6"/>
<circle cx="1348" cy="622" r="1.6"/><circle cx="1346" cy="630" r="1.6"/><circle cx="1359" cy="638" r="1.6"/><circle cx="1344" cy="643" r="1.6"/><circle cx="1330" cy="651" r="1.6"/><circle cx="1352" cy="652" r="1.6"/><circle cx="1376" cy="644" r="1.6"/><circle cx="1317" cy="662" r="1.6"/>
<circle cx="1051" cy="653" r="1.6"/><circle cx="1053" cy="666" r="1.6"/><circle cx="1060" cy="676" r="1.6"/><circle cx="1234" cy="640" r="1.6"/><circle cx="1243" cy="659" r="1.6"/><circle cx="1259" cy="656" r="1.6"/><circle cx="1274" cy="642" r="1.6"/><circle cx="1285" cy="639" r="1.6"/><circle cx="1293" cy="634" r="1.6"/><circle cx="1290" cy="648" r="1.6"/><circle cx="1281" cy="672" r="1.6"/><circle cx="1286" cy="679" r="1.6"/><circle cx="1214" cy="718" r="1.6"/>
<circle cx="1083" cy="26" r="1.6"/><circle cx="1089" cy="19" r="1.6"/><circle cx="1101" cy="25" r="1.6"/><circle cx="1118" cy="18" r="1.6"/><circle cx="1132" cy="25" r="1.6"/><circle cx="1141" cy="18" r="1.6"/><circle cx="1128" cy="43" r="1.6"/><circle cx="1166" cy="21" r="1.6"/><circle cx="1183" cy="20" r="1.6"/><circle cx="1192" cy="29" r="1.6"/><circle cx="1163" cy="49" r="1.6"/><circle cx="1173" cy="52" r="1.6"/><circle cx="1156" cy="56" r="1.6"/><circle cx="1119" cy="56" r="1.6"/><circle cx="1093" cy="56" r="1.6"/><circle cx="1196" cy="47" r="1.6"/><circle cx="1196" cy="54" r="1.6"/><circle cx="1233" cy="96" r="1.6"/><circle cx="1218" cy="103" r="1.6"/><circle cx="1219" cy="116" r="1.6"/>
<circle cx="707" cy="148" r="1.6"/><circle cx="746" cy="157" r="1.6"/><circle cx="720" cy="198" r="1.6"/><circle cx="672" cy="300" r="1.6"/>
</g>
</svg>
</body></html>
